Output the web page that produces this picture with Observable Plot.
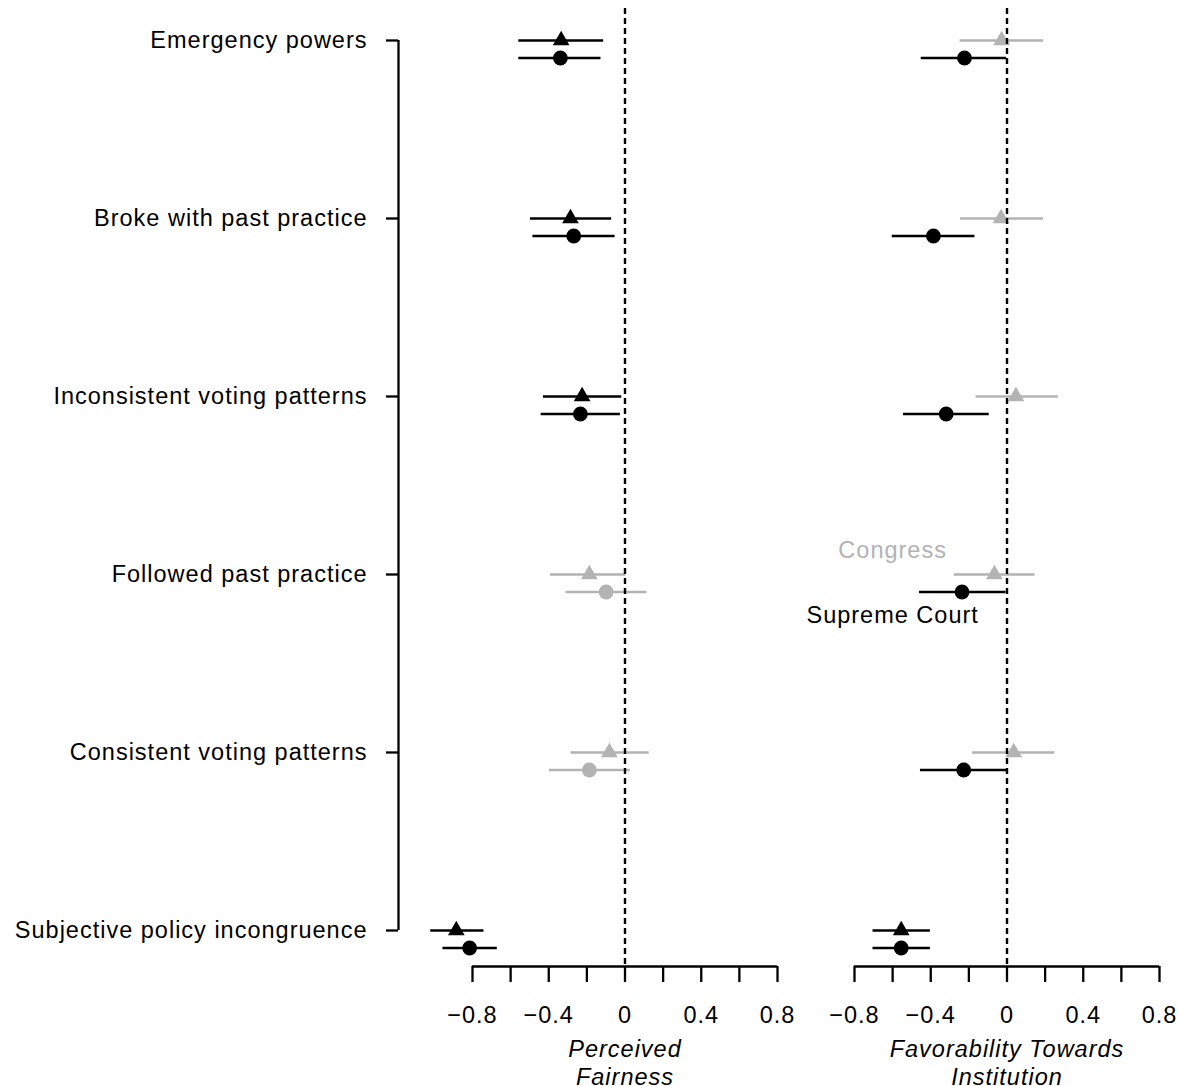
<!DOCTYPE html>
<html>
<head>
<meta charset="utf-8">
<script src="https://cdn.jsdelivr.net/npm/d3@7"></script>
<script src="https://cdn.jsdelivr.net/npm/@observablehq/plot@0.6"></script>
<style>
  html, body { margin: 0; padding: 0; background: #fff; }
</style>
</head>
<body>
<div id="chart"></div>
<script>
// ---- Data ----
const categories = [
  "Emergency powers",
  "Broke with past practice",
  "Inconsistent voting patterns",
  "Followed past practice",
  "Consistent voting patterns",
  "Subjective policy incongruence"
];
const panels = ["Perceived\nFairness", "Favorability Towards\nInstitution"];
const institutions = ["Congress", "Supreme Court"];

// Perceived fairness
const fairnessCongressEst = [-0.335, -0.286, -0.225, -0.187, -0.082, -0.885];
const fairnessCongressLo  = [-0.557, -0.496, -0.428, -0.391, -0.283, -1.019];
const fairnessCongressHi  = [-0.112, -0.070, -0.017,  0.005,  0.127, -0.740];
const fairnessCourtEst    = [-0.339, -0.269, -0.234, -0.099, -0.187, -0.815];
const fairnessCourtLo     = [-0.557, -0.483, -0.440, -0.309, -0.396, -0.955];
const fairnessCourtHi     = [-0.126, -0.052, -0.024,  0.115,  0.028, -0.670];

// Favorability towards institution
const favorCongressEst = [-0.028, -0.031,  0.047, -0.066,  0.035, -0.555];
const favorCongressLo  = [-0.246, -0.244, -0.162, -0.276, -0.180, -0.703];
const favorCongressHi  = [ 0.192,  0.192,  0.269,  0.147,  0.251, -0.402];
const favorCourtEst    = [-0.223, -0.386, -0.319, -0.236, -0.227, -0.555];
const favorCourtLo     = [-0.450, -0.602, -0.543, -0.459, -0.454, -0.703];
const favorCourtHi     = [-0.002, -0.168, -0.093, -0.005, -0.002, -0.402];

const xTicks = [-0.8, -0.6, -0.4, -0.2, 0, 0.2, 0.4, 0.6, 0.8];
const xTickLabels = ["\u22120.8", "", "\u22120.4", "", "0", "", "0.4", "", "0.8"];

// ---- Build table ----
const series = [
  [panels[0], institutions[0], fairnessCongressEst, fairnessCongressLo, fairnessCongressHi],
  [panels[0], institutions[1], fairnessCourtEst, fairnessCourtLo, fairnessCourtHi],
  [panels[1], institutions[0], favorCongressEst, favorCongressLo, favorCongressHi],
  [panels[1], institutions[1], favorCourtEst, favorCourtLo, favorCourtHi]
];
const rows = [];
for (const [panel, institution, est, lo, hi] of series) {
  categories.forEach((category, i) => {
    rows.push({panel, institution, category, est: est[i], lo: lo[i], hi: hi[i],
               sig: hi[i] < 0 || lo[i] > 0});
  });
}
const congressRows = rows.filter(d => d.institution === "Congress");
const courtRows = rows.filter(d => d.institution === "Supreme Court");

const BLACK = "#000000";
const GRAY = "#b3b3b3";
const colorOf = d => d.sig ? BLACK : GRAY;
const FS = 23.5;
const LW = 2.3;
const courtOffset = 17.5;

const chart = Plot.plot({
  width: 1180,
  height: 1086,
  marginLeft: 398,
  marginRight: 21,
  marginTop: 8,
  marginBottom: 120,
  style: {
    fontFamily: "'Liberation Sans', Arial, Helvetica, sans-serif",
    fontSize: FS + "px",
    letterSpacing: "1px",
    color: "#000",
    background: "#fff"
  },
  fx: {domain: panels, axis: null, paddingInner: 0.008, paddingOuter: 0},
  x: {domain: [-0.8, 0.8], insetLeft: 74, insetRight: 0},
  y: {type: "point", domain: categories, padding: 0, insetTop: 32, insetBottom: 36},
  color: {type: "identity"},
  marks: [
    // confidence intervals
    Plot.ruleY(congressRows, {fx: "panel", y: "category", x1: "lo", x2: "hi",
      stroke: colorOf, strokeWidth: 2.3}),
    Plot.ruleY(courtRows, {fx: "panel", y: "category", x1: "lo", x2: "hi",
      dy: courtOffset, stroke: colorOf, strokeWidth: 2.3}),
    // point estimates
    Plot.dot(congressRows, {fx: "panel", x: "est", y: "category", symbol: "triangle",
      r: 6.2, fill: colorOf, stroke: "none"}),
    Plot.dot(courtRows, {fx: "panel", x: "est", y: "category", symbol: "circle",
      r: 7.4, dy: courtOffset, fill: colorOf, stroke: "none"}),
    // zero reference line
    Plot.ruleX([0], {stroke: BLACK, strokeWidth: 2.4, strokeDasharray: "6,4"}),
    // x axis line and ticks
    Plot.ruleY([categories[categories.length - 1]], {y: d => d,
      x1: () => xTicks[0], x2: () => xTicks[xTicks.length - 1],
      dy: 36, stroke: BLACK, strokeWidth: LW}),
    Plot.axisX({ticks: xTicks, tickFormat: d => xTickLabels[xTicks.indexOf(d)],
      tickSize: 16, tickPadding: 23.5, strokeWidth: LW, fontSize: FS, fill: BLACK,
      label: null}),
    // y axis line and labels
    Plot.ruleX([panels[0]], {fx: d => d, x: () => xTicks[0], dx: -74,
      y1: () => categories[0], y2: () => categories[categories.length - 1],
      stroke: BLACK, strokeWidth: LW}),
    Plot.axisY({tickSize: 12, tickPadding: 19, strokeWidth: LW, fontSize: FS, fill: BLACK,
      label: null}),
    // panel titles
    Plot.text(panels, {fx: d => d, x: () => 0, text: d => d, frameAnchor: "bottom",
      lineAnchor: "top", dy: 70, lineHeight: 1.2, fontStyle: "italic",
      fontSize: FS, fill: BLACK}),
    // legend labels
    Plot.text([{panel: panels[1], category: categories[3], label: institutions[0]}],
      {fx: "panel", x: () => -0.6, y: "category", text: "label", dy: -24.5,
       fontSize: FS, fill: GRAY}),
    Plot.text([{panel: panels[1], category: categories[3], label: institutions[1]}],
      {fx: "panel", x: () => -0.6, y: "category", text: "label", dy: 41,
       fontSize: FS, fill: BLACK})
  ]
});
document.getElementById("chart").appendChild(chart);
</script>
</body>
</html>
